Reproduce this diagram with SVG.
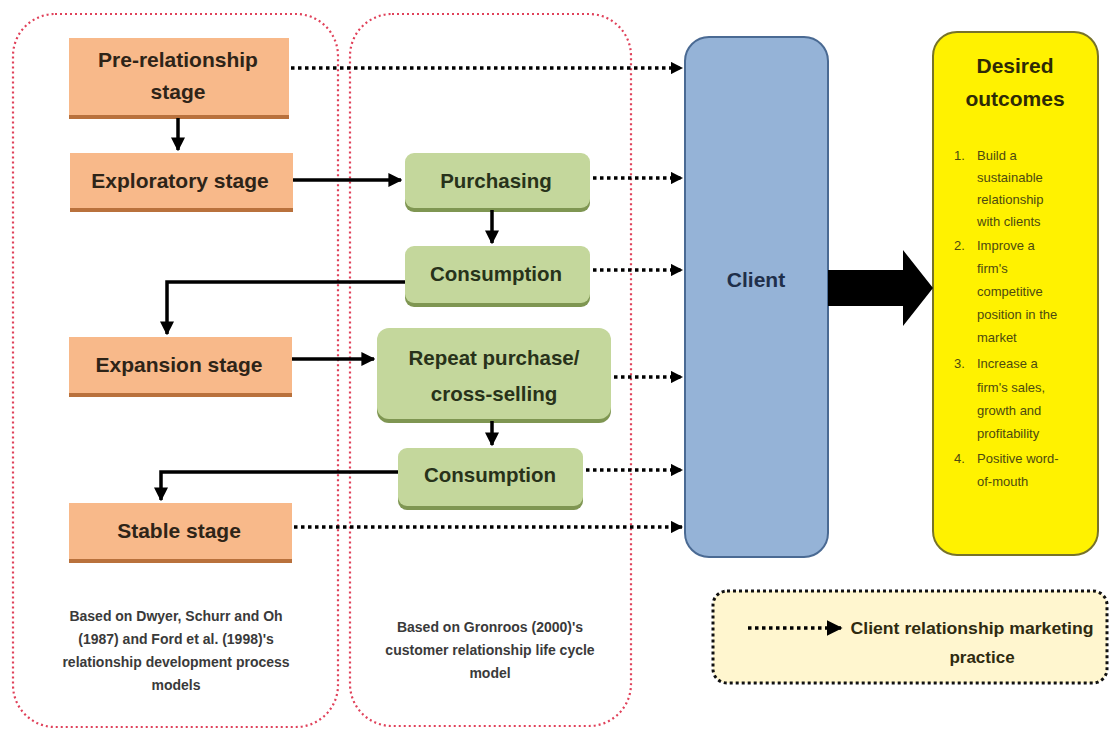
<svg xmlns="http://www.w3.org/2000/svg" width="1113" height="731" viewBox="0 0 1113 731">
<defs>
<style>
.panel{fill:none;stroke:#e0415a;stroke-width:2.2;stroke-dasharray:2 3}
.orange{fill:#f8b98a}
.orangesh{fill:#b9713c}
.green{fill:#c4d79c}
.greensh{fill:#7f9652}
.t{font-family:"Liberation Sans",Arial,sans-serif;font-weight:bold;text-anchor:middle}
.node{font-size:21px;fill:#2e2418}
.gnode{font-size:20.5px;fill:#28321a}
.small{font-size:14px;fill:#3a3a3a}
.list{font-family:"Liberation Sans",Arial,sans-serif;font-size:13px;fill:#4d4a10}
.solid{fill:none;stroke:#000;stroke-width:3.5}
.dot{fill:none;stroke:#000;stroke-width:3.5;stroke-dasharray:3.5 3.5}
</style>
<marker id="ah" viewBox="0 0 10 10" refX="9" refY="5" markerWidth="4" markerHeight="4" orient="auto" markerUnits="strokeWidth"><path d="M0,0 L10,5 L0,10 z" fill="#000"/></marker>
<marker id="ahs" viewBox="0 0 10 10" refX="9" refY="5" markerWidth="3.5" markerHeight="3.5" orient="auto" markerUnits="strokeWidth"><path d="M0,0 L10,5 L0,10 z" fill="#000"/></marker>
<marker id="ahl" viewBox="0 0 10 10" refX="9" refY="5" markerWidth="4.5" markerHeight="4.5" orient="auto" markerUnits="strokeWidth"><path d="M0,0 L10,5 L0,10 z" fill="#000"/></marker>
</defs>
<rect width="1113" height="731" fill="#fff"/>
<g id="panels">
<rect id="panel-left" class="panel" x="13" y="14" width="325" height="713" rx="42"/>
<rect id="panel-mid" class="panel" x="350" y="14" width="281" height="712" rx="42"/>
</g>
<g id="pre-relationship">
<rect class="orangesh" x="69" y="41" width="220" height="78"/>
<rect class="orange" x="69" y="38" width="220" height="77"/>
<text class="t node" x="178" y="67">Pre-relationship</text>
<text class="t node" x="178" y="99">stage</text>
</g>
<g id="exploratory">
<rect class="orangesh" x="70" y="156" width="223" height="56"/>
<rect class="orange" x="70" y="153" width="223" height="55"/>
<text class="t node" x="180" y="188">Exploratory  stage</text>
</g>
<g id="expansion">
<rect class="orangesh" x="69" y="340" width="223" height="57"/>
<rect class="orange" x="69" y="337" width="223" height="56"/>
<text class="t node" x="179" y="372">Expansion  stage</text>
</g>
<g id="stable">
<rect class="orangesh" x="69" y="506" width="223" height="57"/>
<rect class="orange" x="69" y="503" width="223" height="56"/>
<text class="t node" x="179" y="538">Stable stage</text>
</g>
<g id="purchasing">
<rect class="greensh" x="405" y="156" width="185" height="56" rx="9"/>
<rect class="green" x="405" y="153" width="185" height="55" rx="9"/>
<text class="t gnode" x="496" y="188">Purchasing</text>
</g>
<g id="consumption1">
<rect class="greensh" x="405" y="249" width="185" height="58" rx="9"/>
<rect class="green" x="405" y="246" width="185" height="57" rx="9"/>
<text class="t gnode" x="496" y="281">Consumption</text>
</g>
<g id="repeat">
<rect class="greensh" x="377" y="331" width="234" height="92" rx="12"/>
<rect class="green" x="377" y="328" width="234" height="91" rx="12"/>
<text class="t gnode" x="494" y="365">Repeat purchase/</text>
<text class="t gnode" x="494" y="401">cross-selling</text>
</g>
<g id="consumption2">
<rect class="greensh" x="398" y="451" width="185" height="59" rx="9"/>
<rect class="green" x="398" y="448" width="185" height="58" rx="9"/>
<text class="t gnode" x="490" y="482">Consumption</text>
</g>
<g id="client">
<rect x="685" y="37" width="143" height="520" rx="24" fill="#95b3d7" stroke="#4a6a93" stroke-width="2"/>
<text class="t" x="756" y="287" font-size="21" fill="#1f2f4a">Client</text>
</g>
<g id="outcomes">
<rect x="933" y="32" width="165" height="523" rx="24" fill="#fff200" stroke="#77732a" stroke-width="2"/>
<text class="t" x="1015" y="73" font-size="21" fill="#2e2a06">Desired</text>
<text class="t" x="1015" y="106" font-size="21" fill="#2e2a06">outcomes</text>
<g class="list">
<text x="954" y="160">1.</text><text x="977" y="160">Build  a</text>
<text x="977" y="182">sustainable</text>
<text x="977" y="204">relationship</text>
<text x="977" y="226">with clients</text>
<text x="954" y="250">2.</text><text x="977" y="250">Improve  a</text>
<text x="977" y="273">firm's</text>
<text x="977" y="296">competitive</text>
<text x="977" y="319">position in the</text>
<text x="977" y="342">market</text>
<text x="954" y="368">3.</text><text x="977" y="368">Increase a</text>
<text x="977" y="392">firm's sales,</text>
<text x="977" y="415">growth and</text>
<text x="977" y="438">profitability</text>
<text x="954" y="463">4.</text><text x="977" y="463">Positive word-</text>
<text x="977" y="486">of-mouth</text>
</g>
</g>
<g id="connectors">
<path class="solid" d="M178,118 V150" marker-end="url(#ah)"/>
<path class="solid" d="M293,180 H401" marker-end="url(#ah)"/>
<path class="solid" d="M492,210 V243" marker-end="url(#ah)"/>
<path class="solid" d="M405,282 H167 V334" marker-end="url(#ah)"/>
<path class="solid" d="M292,359 H374" marker-end="url(#ah)"/>
<path class="solid" d="M492,421 V445" marker-end="url(#ah)"/>
<path class="solid" d="M398,472 H161 V500" marker-end="url(#ah)"/>
<path class="dot" d="M291,68 H682" marker-end="url(#ahs)"/>
<path class="dot" d="M593,178 H682" marker-end="url(#ahs)"/>
<path class="dot" d="M593,270 H682" marker-end="url(#ahs)"/>
<path class="dot" d="M614,377 H682" marker-end="url(#ahs)"/>
<path class="dot" d="M586,470 H682" marker-end="url(#ahs)"/>
<path class="dot" d="M294,527 H682" marker-end="url(#ahs)"/>
<path id="big-arrow" d="M828,270 H903 V250 L933,288 L903,326 V306 H828 Z" fill="#000"/>
</g>
<g id="notes">
<text class="t small" x="176" y="621">Based on Dwyer, Schurr and Oh</text>
<text class="t small" x="176" y="644">(1987) and Ford et al. (1998)'s</text>
<text class="t small" x="176" y="667">relationship development process</text>
<text class="t small" x="176" y="690">models</text>
<text class="t small" x="490" y="632">Based on Gronroos (2000)'s</text>
<text class="t small" x="490" y="655">customer relationship life cycle</text>
<text class="t small" x="490" y="678">model</text>
</g>
<g id="legend">
<rect x="713" y="591" width="394" height="92" rx="14" fill="#fff6cf" stroke="#111" stroke-width="3" stroke-dasharray="3 3"/>
<path class="dot" d="M748,628 H841" marker-end="url(#ahl)" stroke-width="3"/>
<text class="t" x="972" y="634" font-size="17" fill="#2e2a10" textLength="243" lengthAdjust="spacingAndGlyphs">Client relationship marketing</text>
<text class="t" x="982" y="663" font-size="17" fill="#2e2a10">practice</text>
</g>
</svg>
